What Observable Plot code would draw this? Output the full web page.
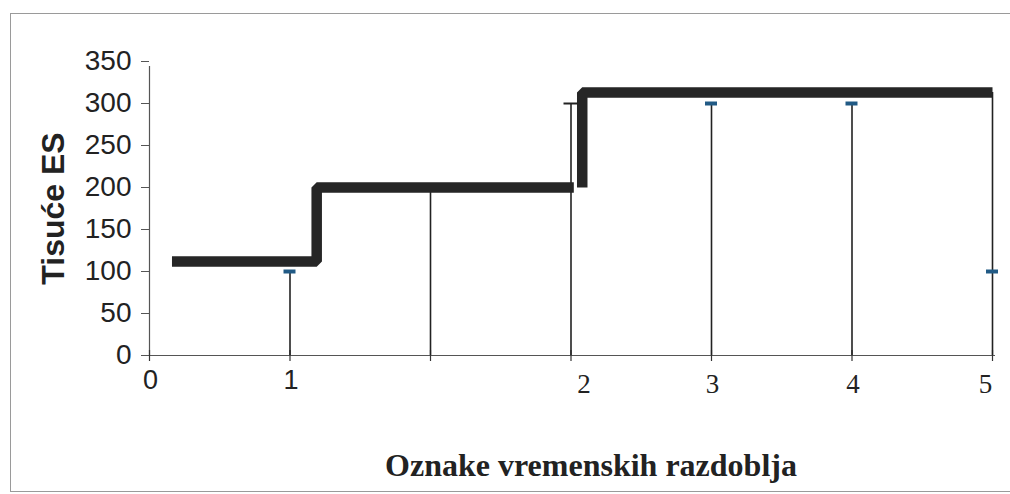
<!DOCTYPE html>
<html>
<head>
<meta charset="utf-8">
<script src="https://cdn.jsdelivr.net/npm/d3@7"></script>
<script src="https://cdn.jsdelivr.net/npm/@observablehq/plot@0.6"></script>
<style>
  html, body { margin: 0; padding: 0; background: #fff; }
  #wrap { position: relative; width: 1010px; height: 494px; overflow: hidden; }
  #frame { position: absolute; left: 10px; top: 13px; width: 1010px; height: 479px; border: 1.5px solid #9a9a9a; box-sizing: border-box; }
  #chart { position: absolute; left: 0; top: 0; }
</style>
</head>
<body>
<div id="wrap"><div id="frame"></div><div id="chart"></div></div>
<script>
// Category positions on the x axis and their labels
const xPos = [0, 1, 2, 3, 4, 5, 6];
const xLabels = ["0", "1", "", "2", "3", "4", "5"];
const yTicks = [0, 50, 100, 150, 200, 250, 300, 350];

// Thick step line (two pieces)
const stepAX = [0.16, 1.19, 1.19, 3.02];
const stepAY = [112, 112, 200, 200];
const stepBX = [3.08, 3.08, 6.0];
const stepBY = [200, 313, 313];

// Thin vertical drop lines
const dropX = [1, 2, 3, 4, 5, 6];
const dropTop = [100, 200, 300, 300, 300, 313];

// Caps on the drop lines
const capX = [1, 3, 4, 5, 6];
const capY = [100, 300, 300, 300, 100];
const capKind = ["blue", "black", "blue", "blue", "blue"];

const yTitle = "Tisuće ES";
const xTitle = "Oznake vremenskih razdoblja";

const stepA = stepAX.map((x, i) => ({x, y: stepAY[i]}));
const stepB = stepBX.map((x, i) => ({x, y: stepBY[i]}));
const drops = dropX.map((x, i) => ({x, y: dropTop[i]}));
const caps = capX.map((x, i) => ({x, y: capY[i], kind: capKind[i]}));
const labels = xPos.map((x, i) => ({x, label: xLabels[i], serif: i >= 2}))
  .filter(d => d.label !== "");
const labelDx = {"0": 1, "1": 1, "2": 13, "3": 1, "4": 1, "5": -7};

const sans = "Liberation Sans, Arial, sans-serif";
const serif = "Liberation Serif, Times New Roman, serif";

const chart = Plot.plot({
  width: 1010,
  height: 494,
  marginLeft: 149,
  marginRight: 18,
  marginTop: 61,
  marginBottom: 139,
  style: {background: "transparent", color: "#222"},
  x: {domain: [0, 6], axis: null},
  y: {domain: [0, 350], axis: null},
  marks: [
    Plot.axisY({ticks: yTicks, tickSize: 8, tickPadding: 10, fontSize: 28, fontFamily: sans, stroke: "#555", fill: "#222", label: null}),
    Plot.ruleX([0], {y1: 0, y2: 350, stroke: "#555", strokeWidth: 1.2, insetBottom: -5}),
    Plot.ruleY([0], {x1: 0, x2: 6, stroke: "#555", strokeWidth: 1.2, insetRight: -3}),
    Plot.ruleX(xPos, {x: d => d, y1: 0, y2: 0, insetTop: -5, insetBottom: -6, stroke: "#333", strokeWidth: 1.2}),
    Plot.ruleX(drops, {x: "x", y1: 0, y2: "y", stroke: "#222", strokeWidth: 1.6}),
    Plot.line(stepA, {x: "x", y: "y", stroke: "#262626", strokeWidth: 10.5, strokeLinejoin: "miter", strokeLinecap: "butt"}),
    Plot.line(stepB, {x: "x", y: "y", stroke: "#262626", strokeWidth: 10.5, strokeLinejoin: "miter", strokeLinecap: "butt"}),
    Plot.ruleY(caps.filter(d => d.kind === "blue"), {y: "y", x1: "x", x2: "x", insetLeft: -6, insetRight: -6, stroke: "#215a85", strokeWidth: 4}),
    Plot.ruleY(caps.filter(d => d.kind === "black"), {y: "y", x1: "x", x2: "x", insetLeft: -7, insetRight: -7, stroke: "#222", strokeWidth: 2}),
    ...labels.map(d =>
      Plot.text([d], {x: "x", text: "label", frameAnchor: "bottom", lineAnchor: "middle",
        dy: d.serif ? 29 : 25, dx: labelDx[d.label],
        fontSize: 27, fontFamily: d.serif ? serif : sans, fill: "#222"})),
    Plot.text([yTitle], {text: d => d, frameAnchor: "left", textAnchor: "middle", lineAnchor: "middle", rotate: -90, dx: -96, dy: 0, fontSize: 32, fontWeight: "bold", fontFamily: sans, fill: "#222"}),
    Plot.text([xTitle], {text: d => d, frameAnchor: "bottom", textAnchor: "middle", lineAnchor: "middle", dx: 20, dy: 110, fontSize: 32, fontWeight: "bold", fontFamily: serif, fill: "#222"})
  ]
});
document.getElementById("chart").appendChild(chart);
</script>
</body>
</html>
